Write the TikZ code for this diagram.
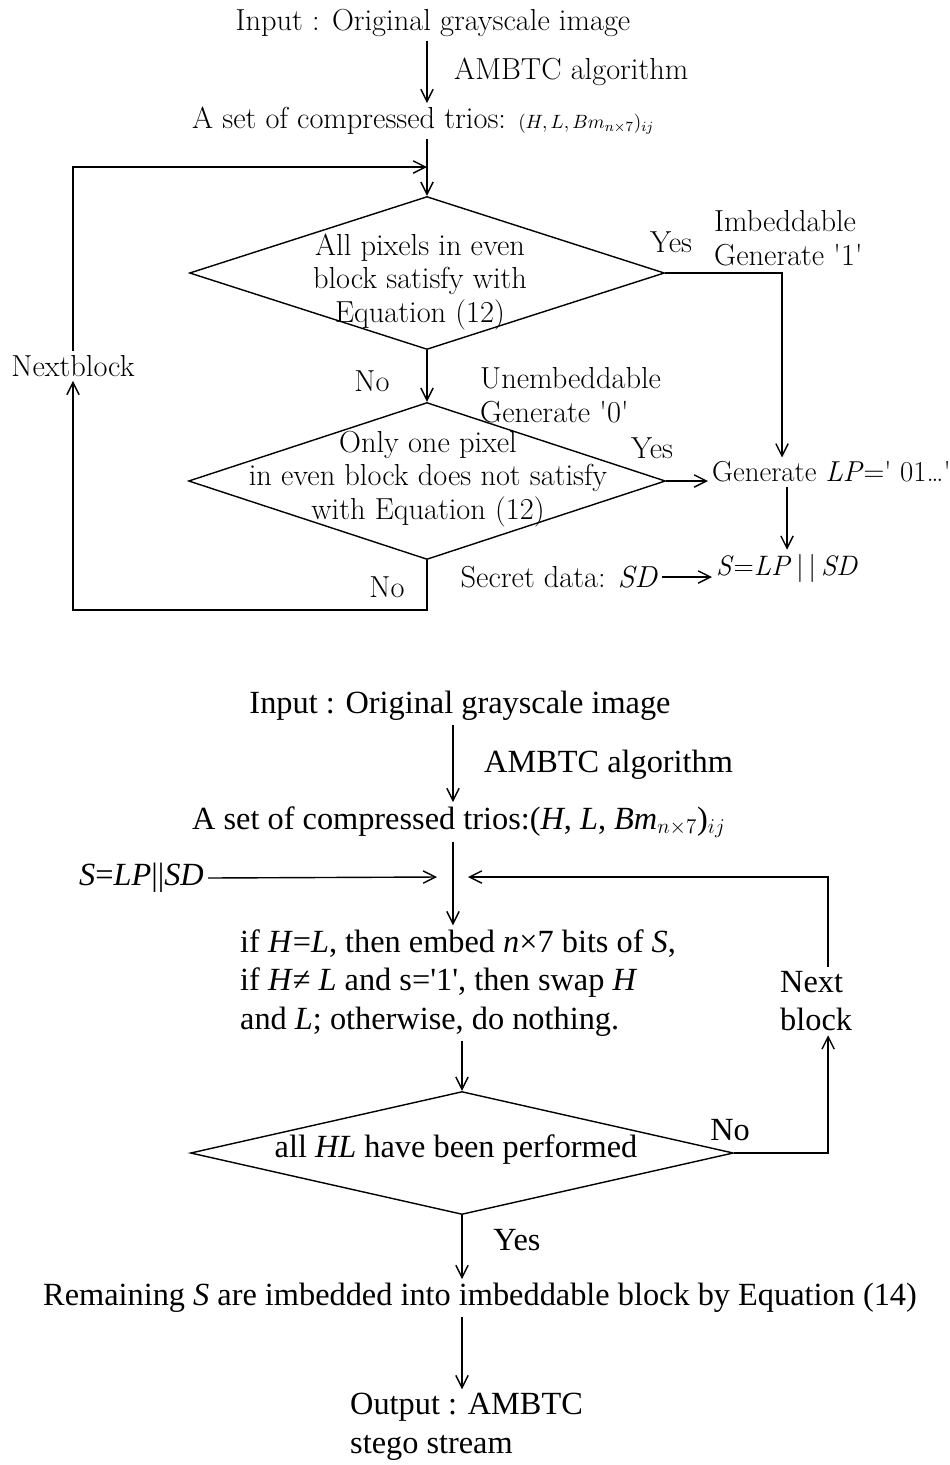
\documentclass[tikz,border=0pt]{standalone}
\usepackage{fontspec}
\newfontfamily\tnr{Liberation Serif}
\usetikzlibrary{shapes.geometric,arrows.meta}

\begin{document}
\begin{tikzpicture}[x=0.02cm, y=-0.02cm, line width=0.8pt,
    >={Straight Barb[length=7pt,width=7pt]},
    top/.style={font=\fontsize{17.3}{19}\selectfont, inner sep=2pt},
    bot/.style={font=\tnr\fontsize{18.4}{22}\selectfont, inner sep=2pt},
    dia/.style={draw, shape=diamond, inner sep=0pt}]
        \useasboundingbox (0,0) rectangle (950,1465);

        % embedding of the location map
        \node[top] (in1) at (433,23) {Input : Original grayscale image};
        \node[top, anchor=west] (alg1) at (450,72) {AMBTC algorithm};
        \node[top, anchor=west] (tr1) at (188,121) {A set of compressed trios: {\fontsize{11.2}{15}\selectfont$(H,L,Bm_{n\times 7})_{ij}$}};
        \node[dia, minimum width=9.5cm, minimum height=3.06cm] (d1) at (427,273) {};
        \node[top, align=center] (d1t) at (420,282) {All pixels in even\\block satisfy with\\Equation (12)};
        \node[top] (yes1) at (671,242) {Yes};
        \node[top, anchor=west, align=left] (imb) at (710,238) {Imbeddable\\Generate \textquotesingle1\textquotesingle};
        \node[top] (nb) at (73,366) {Nextblock};
        \node[top] (no1) at (372,381) {No};
        \node[top, anchor=west, align=left] (unemb) at (476,395) {Unembeddable\\Generate \textquotesingle0\textquotesingle};
        \node[dia, minimum width=9.54cm, minimum height=3.14cm] (d2) at (427,481) {};
        \node[top, align=center] (d2t) at (428,479) {Only one pixel\\in even block does not satisfy\\with Equation (12)};
        \node[top] (yes2) at (652,448) {Yes};
        \node[top, anchor=west, font=\fontsize{16.4}{19}\selectfont] (lp) at (708,472) {Generate \textit{LP}=\textquotesingle\ 01\ldots\textquotesingle};
        \node[top, font=\fontsize{16}{19}\selectfont] (s1) at (787,568) {\textit{S}=\textit{LP}\,|\,|\,\textit{SD}};
        \node[top, anchor=east] (sd) at (662,577) {Secret data: \textit{SD}};
        \node[top] (no2) at (387,587) {No};
        \coordinate (fb) at (427,167);

        \draw[->] (in1.south -| d1) -- (tr1.north -| d1);
        \draw[->] (tr1.south -| d1) -- (d1.north);
        \draw[->] (nb.north) |- (fb);
        \draw[->] (d1.east) -| ([xshift=-0.1cm]s1.north |- lp.north);
        \draw[->] (d1.south) -- (d2.north);
        \draw[->] (d2.east) -- (d2.east -| lp.west);
        \draw[->] (s1.north |- lp.south) -- (s1.north);
        \draw[->] (sd.east) -- (sd.east -| s1.west);
        \draw[->] (d2.south) -- ++(0,50) -| (nb.south);

        % embedding of the secret data
        \node[bot] (in2) at (460,706) {Input : Original grayscale image};
        \node[bot, anchor=west] (alg2) at (480,765) {AMBTC algorithm};
        \node[bot, anchor=west] (tr2) at (188,822) {A set of compressed trios:(\textit{H}, \textit{L}, \textit{Bm}$_{n\times 7}$)$_{ij}$};
        \node[bot, anchor=west] (sld) at (75,878) {\textit{S}=\textit{LP}||\textit{SD}};
        \node[bot, anchor=west, align=left] (proc) at (236,983) {if \textit{H}=\textit{L}, then embed \textit{n}×7 bits of \textit{S},\\if \textit{H}≠ \textit{L} and s='1', then swap \textit{H}\\and \textit{L}; otherwise, do nothing.};
        \node[bot, anchor=west, align=left] (nb2) at (776,1001) {Next\\block};
        \node[dia, minimum width=10.86cm, minimum height=2.46cm] (d3) at (462,1153) {};
        \node[bot] (d3t) at (456,1150) {all \textit{HL} have been performed};
        \node[bot] (no3) at (730,1130) {No};
        \node[bot] (yes3) at (517,1240) {Yes};
        \node[bot] (rem) at (480,1298) {Remaining \textit{S} are imbedded into imbeddable block by Equation (14)};
        \node[bot, anchor=west, align=left] (out) at (346,1427) {Output : AMBTC\\stego stream};
        \coordinate (j2) at (453,877);

        \draw[->] (in2.south -| j2) -- (tr2.north -| j2);
        \draw[->] (tr2.south -| j2) -- (j2 |- proc.north);
        \draw[->] (sld.east) -- ([xshift=-0.32cm]j2);
        \draw[->] ([xshift=0.24cm]nb2.north) |- ([xshift=0.3cm]j2);
        \draw[->] (proc.south -| d3) -- (d3.north);
        \draw[->] (d3.east) -| ([xshift=0.24cm]nb2.south);
        \draw[->] (d3.south) -- (d3.south |- rem.north);
        \draw[->] (rem.south -| d3) -- (out.north -| d3);
    \end{tikzpicture}
\end{document}
